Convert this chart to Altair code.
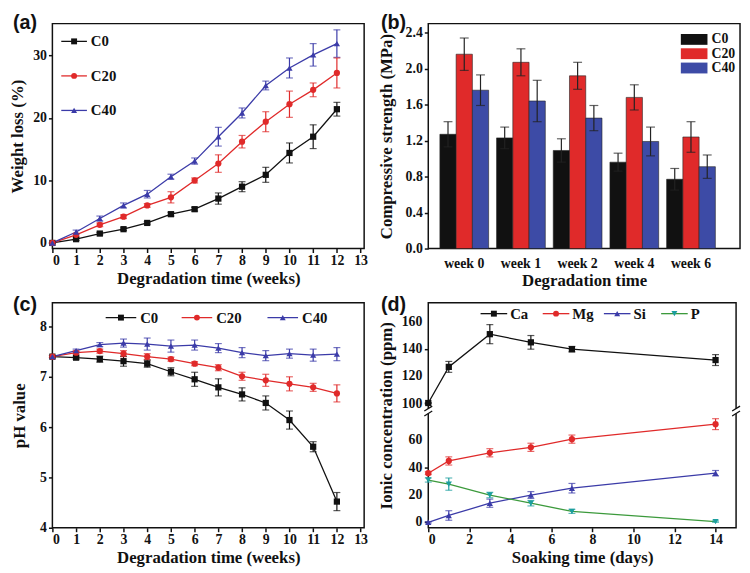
import altair as alt
import pandas as pd

# ---------------- data ----------------
weeks = list(range(13))
series3 = ["C0", "C20", "C40"]

wl_c0 = [0, 0.6, 1.5, 2.2, 3.2, 4.6, 5.4, 7.1, 9.0, 10.9, 14.4, 17.0, 21.4]
wl_c0_err = [0.1, 0.2, 0.2, 0.2, 0.2, 0.3, 0.3, 0.9, 0.8, 1.2, 1.6, 1.9, 1.1]
wl_c20 = [0, 1.3, 2.9, 4.2, 6.0, 7.3, 10.0, 12.7, 16.2, 19.4, 22.2, 24.5, 27.2]
wl_c20_err = [0.1, 0.2, 0.3, 0.3, 0.3, 0.9, 0.4, 1.4, 1.0, 1.6, 2.1, 1.1, 2.4]
wl_c40 = [0, 1.75, 3.9, 6.0, 7.8, 10.6, 13.1, 17.0, 20.8, 25.2, 28.0, 30.1, 31.9]
wl_c40_err = [0.1, 0.3, 0.4, 0.4, 0.6, 0.4, 0.5, 1.5, 0.8, 0.7, 1.6, 1.8, 2.2]

periods = ["week 0", "week 1", "week 2", "week 4", "week 6"]
cs_c0 = [1.27, 1.23, 1.09, 0.96, 0.77]
cs_c0_err = [0.14, 0.12, 0.13, 0.10, 0.12]
cs_c20 = [2.16, 2.07, 1.92, 1.68, 1.24]
cs_c20_err = [0.18, 0.15, 0.15, 0.14, 0.17]
cs_c40 = [1.76, 1.64, 1.45, 1.19, 0.91]
cs_c40_err = [0.17, 0.23, 0.14, 0.16, 0.13]

ph_c0 = [7.40, 7.38, 7.35, 7.31, 7.26, 7.10, 6.95, 6.79, 6.65, 6.48, 6.14, 5.61, 4.52]
ph_c0_err = [0.02, 0.03, 0.06, 0.10, 0.07, 0.08, 0.14, 0.17, 0.13, 0.14, 0.18, 0.10, 0.18]
ph_c20 = [7.40, 7.48, 7.51, 7.46, 7.40, 7.35, 7.26, 7.18, 7.01, 6.93, 6.86, 6.79, 6.67]
ph_c20_err = [0.02, 0.03, 0.04, 0.06, 0.06, 0.04, 0.04, 0.06, 0.08, 0.12, 0.14, 0.08, 0.17]
ph_c40 = [7.40, 7.52, 7.64, 7.67, 7.65, 7.61, 7.63, 7.57, 7.48, 7.42, 7.46, 7.43, 7.45]
ph_c40_err = [0.02, 0.03, 0.04, 0.08, 0.12, 0.12, 0.10, 0.09, 0.10, 0.10, 0.09, 0.12, 0.13]

days = [0, 1, 3, 5, 7, 14]
ions = ["Ca", "Mg", "Si", "P"]
ca = [100.5, 127, 151, 145, 140, 132]
ca_err = [0, 4, 7, 5, 2, 4]
mg = [36, 45, 51, 55, 61, 72]
mg_err = [1, 3, 3, 3, 3, 4]
si = [0, 5, 14, 20, 25, 36]
si_err = [0.5, 3.5, 3, 2.5, 3.5, 2]
p_ion = [31, 28, 20, 14, 8, 0.5]
p_ion_err = [1.5, 4.5, 2, 2, 1.5, 0.5]
ion_ticks = [0, 20, 40, 60, 100, 120, 140, 160]

# ---------------- style ----------------
SERIF = "Liberation Serif"
SANS = "Liberation Sans"
BLACK = "#111111"
RED = "#e02a2a"
BLUE = "#3b3ba8"
GREEN = "#3c9a3c"
TEAL = "#1c9e9e"
BAR_BLUE = "#3d4ba6"
BREAK_SHIFT = 13  # broken axis: values above the gap are drawn 13 units lower


def long_df(x, names, vals, errs):
    rows = []
    for n, v, e in zip(names, vals, errs):
        for xi, vi, ei in zip(x, v, e):
            rows.append({"x": xi, "series": n, "y": vi, "lo": vi - ei, "hi": vi + ei})
    return pd.DataFrame(rows)


def series_chart(df, names, pt_colors, ln_colors, shapes, xscale, yscale,
                 xaxis, yaxis, xtitle, ytitle, calc=None):
    base = alt.Chart(df)
    yf, lof, hif = "y", "lo", "hi"
    if calc:
        base = base.transform_calculate(**calc)
        yf, lof, hif = "yp", "lop", "hip"
    color = alt.Color("series:N", scale=alt.Scale(domain=names, range=pt_colors), legend=None)
    stroke = alt.Stroke("series:N", scale=alt.Scale(domain=names, range=ln_colors), legend=None)
    shape = alt.Shape("series:N", scale=alt.Scale(domain=names, range=shapes), legend=None)

    def X():
        return alt.X("x:Q", scale=xscale, axis=xaxis, title=xtitle)

    def Y(f):
        return alt.Y(f + ":Q", scale=yscale, axis=yaxis, title=ytitle)

    line = base.mark_line(strokeWidth=1.3).encode(x=X(), y=Y(yf), stroke=stroke, detail="series:N")
    rule = base.mark_rule(strokeWidth=1.2).encode(x=X(), y=Y(lof), y2=alt.Y2(hif), color=color)
    tlo = base.mark_tick(orient="horizontal", size=7, thickness=1.2).encode(x=X(), y=Y(lof), color=color)
    thi = base.mark_tick(orient="horizontal", size=7, thickness=1.2).encode(x=X(), y=Y(hif), color=color)
    pts = base.mark_point(filled=True, size=40, opacity=1).encode(x=X(), y=Y(yf), color=color, shape=shape)
    return [line, rule, tlo, thi, pts]


one = pd.DataFrame({"k": [0]})


def legend_line_item(x0, x1, xm, xt, yy, name, lcolor, pcolor, shape):
    b = alt.Chart(one)
    return [
        b.mark_rule(color=lcolor, strokeWidth=1.3).encode(x=alt.value(x0), x2=alt.value(x1), y=alt.value(yy)),
        b.mark_point(filled=True, opacity=1, size=36, color=pcolor, shape=shape).encode(
            x=alt.value(xm), y=alt.value(yy)),
        b.mark_text(align="left", baseline="middle", font=SERIF, fontWeight="bold", fontSize=15,
                    color=BLACK).encode(x=alt.value(xt), y=alt.value(yy), text=alt.value(name)),
    ]


def panel_label(txt, dx, dy):
    return alt.Chart(one).mark_text(align="left", baseline="top", font=SANS, fontWeight="bold",
                                    fontSize=20, color=BLACK).encode(
        x=alt.value(dx), y=alt.value(dy), text=alt.value(txt))


# ---------------- panel (a) ----------------
W1, H1 = 316, 228
df_a = long_df(weeks, series3, [wl_c0, wl_c20, wl_c40], [wl_c0_err, wl_c20_err, wl_c40_err])
layers_a = series_chart(
    df_a, series3, [BLACK, RED, BLUE], [BLACK, RED, BLUE], ["square", "circle", "triangle-up"],
    alt.Scale(domain=[0, 13.15], nice=False, zero=False),
    alt.Scale(domain=[-0.9, 35.1], nice=False, zero=False),
    alt.Axis(values=list(range(14)), labelPadding=1, titlePadding=3),
    alt.Axis(values=[0, 10, 20, 30], minExtent=18, titlePadding=6),
    "Degradation time (weeks)", "Weight loss (%)")
leg_a = []
for i, (n, c, s) in enumerate(zip(series3, [BLACK, RED, BLUE], ["square", "circle", "triangle-up"])):
    yy = 18 + 35 * i
    leg_a += legend_line_item(9, 35, 22, 39, yy, n, c, c, s)
chart_a = alt.layer(*layers_a, *leg_a, panel_label("(a)", -40, -11)).properties(width=W1, height=H1)

# ---------------- panel (b) ----------------
rows = []
for n, v, e in zip(series3, [cs_c0, cs_c20, cs_c40], [cs_c0_err, cs_c20_err, cs_c40_err]):
    for per, vi, ei in zip(periods, v, e):
        rows.append({"period": per, "series": n, "y": vi, "lo": vi - ei, "hi": vi + ei})
df_b = pd.DataFrame(rows)
xb = alt.X("period:N", sort=periods,
           scale=alt.Scale(paddingInner=0.14, paddingOuter=0.32, align=0.32),
           axis=alt.Axis(ticks=False, labelAngle=0, labelPadding=8, titlePadding=2),
           title="Degradation time")
yscale_b = alt.Scale(domain=[0, 2.5], nice=False)
yaxis_b = alt.Axis(values=[0, 0.4, 0.8, 1.2, 1.6, 2.0, 2.4], format=".1f", minExtent=27, titlePadding=6)
xo = alt.XOffset("series:N", scale=alt.Scale(domain=series3, paddingInner=0, paddingOuter=0))
base_b = alt.Chart(df_b)
bars = base_b.mark_bar(stroke="#222222", strokeWidth=0.6).encode(
    x=xb, xOffset=xo,
    y=alt.Y("y:Q", scale=yscale_b, axis=yaxis_b, title="Compressive strength (MPa)"),
    color=alt.Color("series:N", scale=alt.Scale(domain=series3, range=[BLACK, RED, BAR_BLUE]), legend=None))
eb_rule = base_b.mark_rule(color="#222222", strokeWidth=1.2).encode(
    x=xb, xOffset=xo,
    y=alt.Y("lo:Q", scale=yscale_b, axis=yaxis_b, title="Compressive strength (MPa)"), y2="hi:Q")
eb_lo = base_b.mark_tick(color="#222222", orient="horizontal", size=9, thickness=1.2).encode(
    x=xb, xOffset=xo, y=alt.Y("lo:Q", scale=yscale_b, axis=yaxis_b, title="Compressive strength (MPa)"))
eb_hi = base_b.mark_tick(color="#222222", orient="horizontal", size=9, thickness=1.2).encode(
    x=xb, xOffset=xo, y=alt.Y("hi:Q", scale=yscale_b, axis=yaxis_b, title="Compressive strength (MPa)"))
leg_b = []
for i, (n, c) in enumerate(zip(series3, [BLACK, RED, BAR_BLUE])):
    yy = 16 + 14.5 * i
    b = alt.Chart(one)
    leg_b.append(b.mark_rect(color=c).encode(x=alt.value(256), x2=alt.value(283),
                                             y=alt.value(yy - 5.5), y2=alt.value(yy + 5.5)))
    leg_b.append(b.mark_text(align="left", baseline="middle", font=SERIF, fontWeight="bold",
                             fontSize=14, color=BLACK).encode(
        x=alt.value(287), y=alt.value(yy), text=alt.value(n)))
chart_b = alt.layer(bars, eb_rule, eb_lo, eb_hi, *leg_b, panel_label("(b)", -48, -11)).properties(
    width=W1, height=H1)

# ---------------- panel (c) ----------------
H2 = 228
df_c = long_df(weeks, series3, [ph_c0, ph_c20, ph_c40], [ph_c0_err, ph_c20_err, ph_c40_err])
layers_c = series_chart(
    df_c, series3, [BLACK, RED, BLUE], [BLACK, RED, BLUE], ["square", "circle", "triangle-up"],
    alt.Scale(domain=[0, 13.15], nice=False, zero=False),
    alt.Scale(domain=[4, 8.47], nice=False, zero=False),
    alt.Axis(values=list(range(14)), labelPadding=1, titlePadding=3),
    alt.Axis(values=[4, 5, 6, 7, 8], minExtent=18, titlePadding=6),
    "Degradation time (weeks)", "pH value")
leg_c = []
for n, c, s, x0 in zip(series3, [BLACK, RED, BLUE], ["square", "circle", "triangle-up"], [54, 131, 218]):
    leg_c += legend_line_item(x0, x0 + 31, x0 + 15.5, x0 + 35, 15, n, c, c, s)
chart_c = alt.layer(*layers_c, *leg_c, panel_label("(c)", -40, -8)).properties(width=W1, height=H2)

# ---------------- panel (d) ----------------
W4 = 312
df_d = long_df(days, ions, [ca, mg, si, p_ion], [ca_err, mg_err, si_err, p_ion_err])


def brk(f):
    return f"datum.{f} > 80 ? datum.{f} - {BREAK_SHIFT} : datum.{f}"


calc = {"yp": brk("y"), "lop": brk("lo"), "hip": brk("hi")}
yscale_d = alt.Scale(domain=[-4, 161], nice=False, zero=False)
yaxis_d = alt.Axis(values=[v - BREAK_SHIFT if v > 80 else v for v in ion_ticks], labels=False,
                   minExtent=27, titlePadding=6)
ytitle_d = "Ionic concentration (ppm)"
layers_d = series_chart(
    df_d, ions, [BLACK, RED, BLUE, TEAL], [BLACK, RED, BLUE, GREEN],
    ["square", "circle", "triangle-up", "triangle-down"],
    alt.Scale(domain=[0, 15], nice=False, zero=False), yscale_d,
    alt.Axis(values=[0, 2, 4, 6, 8, 10, 12, 14], labelPadding=1, titlePadding=3),
    yaxis_d, "Soaking time (days)", ytitle_d, calc=calc)
tick_labels_d = alt.Chart(pd.DataFrame({"v": ion_ticks})).transform_calculate(
    vp=brk("v")).mark_text(align="right", baseline="middle", font=SERIF, fontWeight="bold",
                           fontSize=14, color=BLACK).encode(
    x=alt.value(-6), y=alt.Y("vp:Q", scale=yscale_d, axis=yaxis_d, title=ytitle_d), text="v:Q")
leg_d = []
for n, lc, pc, s, x0 in zip(ions, [BLACK, RED, BLUE, GREEN], [BLACK, RED, BLUE, TEAL],
                             ["square", "circle", "triangle-up", "triangle-down"], [53, 116, 178, 236]):
    leg_d += legend_line_item(x0, x0 + 27, x0 + 13.5, x0 + 30, 11, n, lc, pc, s)
brk_marks = []
bb = alt.Chart(one)
for xpx in [0, W4]:
    brk_marks.append(bb.mark_rule(color="white", strokeWidth=4).encode(
        x=alt.value(xpx), y=alt.datum(79.8), y2=alt.datum(83.2)))
    for y0 in [78.0, 81.6]:
        brk_marks.append(bb.mark_rule(color=BLACK, strokeWidth=1.3).encode(
            x=alt.value(xpx - 4), x2=alt.value(xpx + 4), y=alt.datum(y0), y2=alt.datum(y0 + 3.6)))
chart_d = alt.layer(*layers_d, tick_labels_d, *brk_marks, *leg_d,
                    panel_label("(d)", -48, -8)).properties(width=W4, height=H2)

# ---------------- assemble ----------------
ind = dict(color="independent", shape="independent", stroke="independent")
row1 = alt.hconcat(chart_a, chart_b, spacing=8).resolve_scale(**ind)
row2 = alt.hconcat(chart_c, chart_d, spacing=8).resolve_scale(**ind)
chart = alt.vconcat(row1, row2, spacing=5).resolve_scale(**ind).properties(padding=0).configure_view(
    stroke=BLACK, strokeWidth=1.5
).configure_axis(
    labelFont=SERIF, labelFontWeight="bold", labelFontSize=14, labelColor=BLACK,
    titleFont=SERIF, titleFontWeight="bold", titleFontSize=17, titleColor=BLACK,
    tickColor=BLACK, tickSize=4, tickWidth=1.5, domain=False, grid=False, labelOverlap=False,
)

chart.save("out.html", embed_options={"renderer": "svg", "actions": False})
